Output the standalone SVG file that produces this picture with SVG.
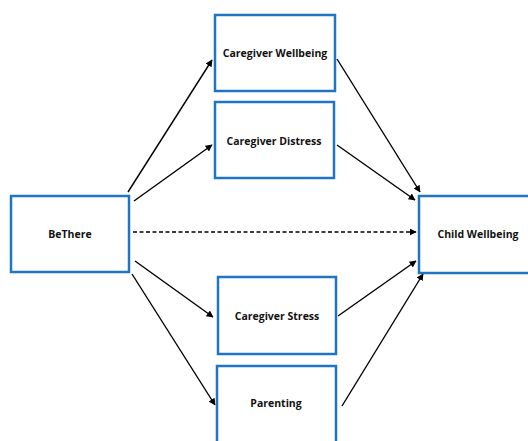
<svg xmlns="http://www.w3.org/2000/svg" width="528" height="441" viewBox="0 0 528 441">
<defs>
<style>
.box{fill:#fff;stroke:#1F74C4;stroke-width:2.5}
.lbl{font-family:"Open Sans","Liberation Sans",sans-serif;font-weight:bold;font-size:10.5px;fill:#111;text-anchor:middle}
.edge{stroke:#000;stroke-width:1.4;fill:none;marker-end:url(#ah)}
.dash{stroke-dasharray:4 2.5}
</style>
<marker id="ah" viewBox="0 0 10 10" refX="9" refY="5" markerWidth="7" markerHeight="7" markerUnits="userSpaceOnUse" orient="auto">
<path d="M0,0 L10,5 L0,10 z" fill="#000"/>
</marker>
</defs>
<rect width="528" height="441" fill="#fff"/>
<g id="connectors">
<line class="edge" x1="128" y1="192" x2="212" y2="60"/>
<line class="edge" x1="134" y1="201" x2="212" y2="145"/>
<line class="edge dash" x1="133" y1="232" x2="416" y2="232"/>
<line class="edge" x1="135" y1="261" x2="213" y2="317"/>
<line class="edge" x1="132" y1="274" x2="215" y2="405"/>
<line class="edge" x1="337" y1="59" x2="420" y2="192"/>
<line class="edge" x1="337" y1="145" x2="415" y2="200"/>
<line class="edge" x1="338" y1="316" x2="416" y2="261"/>
<line class="edge" x1="342" y1="406" x2="423" y2="274"/>
</g>
<g id="bethere">
<rect class="box" x="11" y="196" width="118" height="76"/>
<text class="lbl" x="70" y="238">BeThere</text>
</g>
<g id="caregiver-wellbeing">
<rect class="box" x="215" y="15" width="120" height="76"/>
<text class="lbl" x="275" y="57">Caregiver Wellbeing</text>
</g>
<g id="caregiver-distress">
<rect class="box" x="215" y="102" width="119" height="76"/>
<text class="lbl" x="274" y="145">Caregiver Distress</text>
</g>
<g id="caregiver-stress">
<rect class="box" x="218" y="277" width="118" height="77"/>
<text class="lbl" x="277" y="320">Caregiver Stress</text>
</g>
<g id="parenting">
<rect class="box" x="217" y="366" width="119" height="80"/>
<text class="lbl" x="276" y="407">Parenting</text>
</g>
<g id="child-wellbeing">
<rect class="box" x="419" y="196" width="118" height="77"/>
<text class="lbl" x="478" y="238">Child Wellbeing</text>
</g>
</svg>
